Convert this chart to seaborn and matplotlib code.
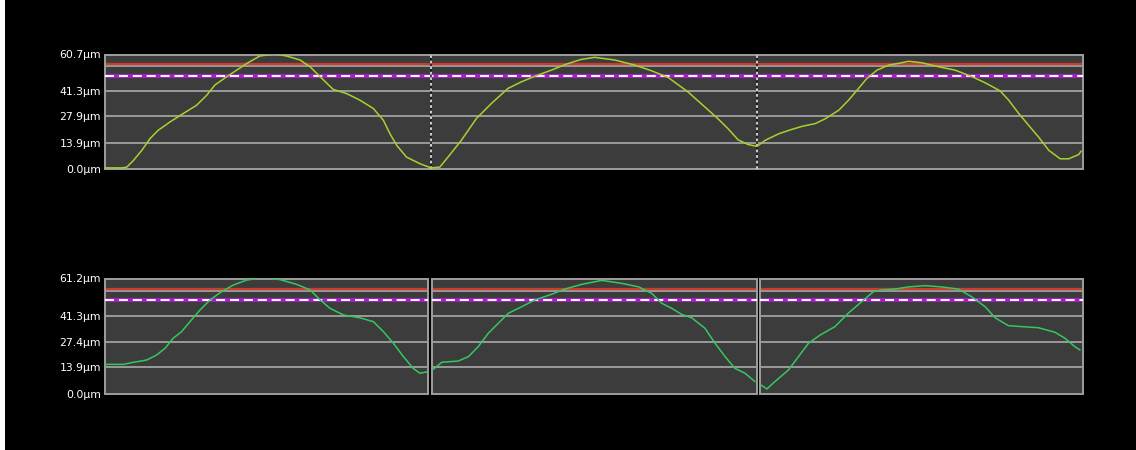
import numpy as np
import pandas as pd
import matplotlib
matplotlib.use("Agg")
import matplotlib.pyplot as plt
import seaborn as sns
from matplotlib.patches import Rectangle

# ---------------- data ----------------
# Top profile (one continuous trace, 3 segments of 100 samples)
top_x = [0, 5.1, 6.7, 8.7, 11.3, 13.8, 16.3, 19.9, 24.0, 28.1, 31.2, 33.7, 37.3, 40.4, 43.5,
         47.5, 52.1, 55.7, 59.8, 62.9, 66.0, 70.0, 74.1, 78.2, 82.3, 85.4, 87.4, 89.5, 92.5,
         96.6, 100.0, 102.7, 105.2, 109.3, 113.9, 118.5, 123.6, 127.7, 132.8, 136.9, 141.5,
         146.1, 150.2, 156.3, 162.5, 167.6, 172.7, 178.8, 184.0, 188.0, 191.1, 194.2, 197.2,
         200.0, 202.5, 206.7, 210.7, 213.8, 217.9, 221.0, 225.1, 228.1, 230.7, 233.7, 236.8,
         240.4, 243.5, 246.5, 250.6, 255.7, 260.8, 266.0, 270.0, 274.6, 277.2, 280.3, 283.3,
         286.4, 289.5, 293.0, 295.6, 298.7, 299.4]
top_y = [0.6, 0.6, 1.0, 4.5, 9.9, 16.1, 20.5, 24.9, 29.4, 33.8, 39.1, 44.5, 48.9, 52.4, 56.0,
         59.9, 61.0, 59.9, 57.8, 54.2, 48.9, 42.2, 40.0, 36.5, 32.1, 25.8, 18.7, 12.5, 6.3,
         2.8, 0.6, 1.0, 6.3, 15.2, 26.7, 34.7, 42.7, 46.2, 49.8, 52.4, 55.6,
         58.1, 59.2, 57.8, 55.1, 52.1, 48.6, 40.9, 32.9, 26.7, 21.4, 15.5, 13.0,
         12.0, 15.2, 18.7, 21.0, 22.6, 24.1, 26.7, 31.2, 36.5, 41.8, 48.0, 52.4,
         55.1, 56.0, 57.1, 56.3, 54.2, 52.4, 48.9, 45.7, 41.4, 36.5, 29.4, 23.2,
         16.9, 9.9, 5.4, 5.4, 7.7, 9.5]

# Bottom profiles (three separate panels)
bot1_x = [0, 0.5, 5.7, 8.8, 12.9, 16.0, 18.6, 21.1, 23.7, 26.3, 29.4, 32.5, 36.1, 39.7, 43.9,
          49.0, 54.2, 59.3, 63.5, 66.6, 69.7, 73.8, 78.9, 83.1, 86.2, 89.3, 92.4, 95.4, 97.5, 100]
bot1_y = [15.5, 15.5, 15.5, 16.6, 17.8, 20.5, 24.1, 29.4, 32.9, 38.2, 44.4, 49.8, 54.2, 57.7, 60.4,
          61.6, 60.6, 58.1, 55.1, 49.8, 45.3, 41.8, 40.3, 38.2, 32.9, 26.7, 19.6, 13.4, 10.8, 11.6]
bot2_x = [0.4, 3.0, 8.1, 11.2, 14.2, 17.3, 20.4, 23.5, 27.6, 31.7, 36.8, 40.9, 46.1, 52.2, 58.4,
          63.5, 67.6, 70.7, 73.8, 76.8, 79.9, 84.0, 87.1, 90.2, 93.2, 96.3, 99.4]
bot2_y = [12.9, 16.6, 17.3, 19.6, 24.9, 32.0, 37.4, 42.7, 46.2, 49.8, 52.8, 55.6, 58.1, 60.2, 58.6,
          56.8, 53.3, 48.0, 45.3, 42.1, 40.3, 34.7, 26.7, 19.6, 13.4, 10.8, 6.3]
bot3_x = [0, 2.1, 4.6, 8.8, 11.9, 15.0, 18.6, 23.2, 27.3, 31.5, 35.1, 37.7, 41.8, 45.9, 51.1,
          56.3, 61.4, 65.5, 69.7, 72.8, 76.9, 81.0, 86.2, 91.3, 94.4, 97.5, 99.1]
bot3_y = [4.9, 2.4, 6.3, 12.5, 19.6, 26.7, 31.1, 35.6, 42.7, 48.9, 54.2, 55.1, 55.6, 56.7, 57.4,
          56.7, 55.6, 51.5, 46.2, 40.3, 36.1, 35.6, 35.0, 32.6, 29.4, 24.9, 23.1]

top_ticks = [0.0, 13.9, 27.9, 41.3, 60.7]
top_labels = ["0.0µm", "13.9µm", "27.9µm", "41.3µm", "60.7µm"]
top_extra_grid = 54.6
top_red = 55.6
top_dash = 49.4

bot_ticks = [0.0, 13.9, 27.4, 41.3, 61.2]
bot_labels = ["0.0µm", "13.9µm", "27.4µm", "41.3µm", "61.2µm"]
bot_extra_grid = 54.5
bot_red = 55.6
bot_dash = 49.8

top_separators = [100, 200]

# ---------------- style ----------------
sns.set_theme(style="dark")
plt.rcParams["font.family"] = ["DejaVu Sans"]
plt.rcParams["lines.scale_dashes"] = False

BG = "#000000"
PLOT_BG = "#3c3c3c"
FRAME = "#9e9e9e"
GRID = "#b4b4b4"
RED = "#cc3b2e"
PURPLE = "#a020c0"
TOP_COL = "#a6d22e"
BOT_COL = "#34c85e"

W, H = 1136, 450
fig = plt.figure(figsize=(W / 100, H / 100), dpi=100, facecolor=BG)
fig.patches.append(Rectangle((0, 0), 5 / W, 1, transform=fig.transFigure,
                             facecolor="white", edgecolor="none", zorder=0))


def fr(x0, y0, x1, y1):
    return [x0 / W, 1 - y1 / H, (x1 - x0) / W, (y1 - y0) / H]


def style_axis(ax, xmax, ymax, ticks, labels, extra, red, dash, show_labels):
    ax.set_facecolor(PLOT_BG)
    ax.set_xlim(0, xmax)
    ax.set_ylim(0, ymax)
    for g in ticks[1:-1] + [extra]:
        ax.axhline(g, color=GRID, lw=1.1, zorder=1)
    ax.axhline(red, color=RED, lw=1.6, zorder=2)
    ax.axhline(dash, color=PURPLE, lw=3.0, zorder=2)
    ax.axhline(dash, color="white", lw=1.4, ls=(0, (6.5, 3.5)), zorder=3)
    ax.set_xticks([])
    ax.set_yticks(ticks)
    if show_labels:
        ax.set_yticklabels(labels, color="white", fontsize=7.8)
    else:
        ax.set_yticklabels([])
    ax.tick_params(axis="y", length=0, pad=3)
    ax.grid(False)
    ax.set_xlabel("")
    ax.set_ylabel("")
    for s in ax.spines.values():
        s.set_color(FRAME)
        s.set_linewidth(1.4)
        s.set_visible(True)


# Top panel
ax_top = fig.add_axes(fr(105, 54.5, 1083, 169))
style_axis(ax_top, 300, 60.7, top_ticks, top_labels, top_extra_grid, top_red, top_dash, True)
for sx in top_separators:
    ax_top.axvline(sx, color="#111111", lw=1.1, zorder=4)
    ax_top.axvline(sx, color="white", lw=1.1, ls=(0, (2, 2)), zorder=5)
df_top = pd.DataFrame({"x": top_x, "y": top_y})
sns.lineplot(data=df_top, x="x", y="y", ax=ax_top, color=TOP_COL, lw=1.1,
             sort=False, zorder=6)
ax_top.set_xlabel("")
ax_top.set_ylabel("")

# Bottom panels
boxes = [(105, 428), (432, 757), (760, 1083)]
series = [(bot1_x, bot1_y), (bot2_x, bot2_y), (bot3_x, bot3_y)]
for i, ((x0, x1), (bx, by)) in enumerate(zip(boxes, series)):
    ax = fig.add_axes(fr(x0, 278.5, x1, 393.5))
    style_axis(ax, 100, 61.2, bot_ticks, bot_labels, bot_extra_grid, bot_red, bot_dash, i == 0)
    df = pd.DataFrame({"x": bx, "y": by})
    sns.lineplot(data=df, x="x", y="y", ax=ax, color=BOT_COL, lw=1.1, sort=False, zorder=6)
    ax.set_xlabel("")
    ax.set_ylabel("")

fig.savefig("out.png", dpi=100, facecolor=BG)
